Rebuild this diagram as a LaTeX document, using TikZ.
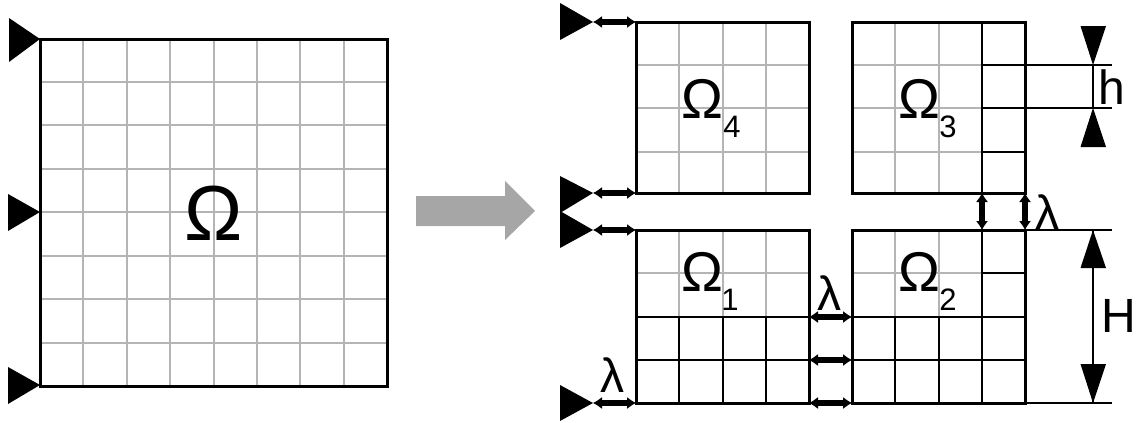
\documentclass[tikz,border=0pt]{standalone}
\usepackage{fontspec}
\setmainfont{Liberation Sans}
\usetikzlibrary{arrows.meta}
\definecolor{gridgray}{HTML}{B4B4B4}
\definecolor{bigarrow}{HTML}{A6A6A6}
\tikzset{
  x=1pt,y=-1pt,
  thin line/.style={line width=2.4pt,draw=gridgray},
  black line/.style={line width=2.4pt,draw=black},
  border/.style={line width=3pt,draw=black,line join=miter},
  dim line/.style={line width=2.4pt,draw=black},
  gap arrow/.style={line width=1pt,draw=black,{Latex[length=9pt,width=12pt]}-{Latex[length=9pt,width=12pt]}},
  gap shaft/.style={line width=6pt,draw=black,shorten >=5pt,shorten <=5pt},
  solid tri/.style={fill=black,draw=none},
  bigO/.style={inner sep=0pt,font=\fontsize{78}{78}\selectfont},
  medO/.style={inner sep=0pt,font=\fontsize{56}{56}\selectfont},
  subs/.style={inner sep=0pt,font=\fontsize{31}{31}\selectfont},
  lbl/.style={inner sep=0pt,font=\fontsize{48}{48}\selectfont},
}
\begin{document}
\begin{tikzpicture}
\useasboundingbox (0,0) rectangle (1136,423);
% left domain
\foreach \v in {83,127,170,214,257,300,344}{
  \draw[thin line] (\v,39) -- (\v,386);
}
\foreach \v in {82,125,169,212,256,299,343}{
  \draw[thin line] (40,\v) -- (387,\v);
}
\draw[border] (40,39) rectangle (387,386);
% supports, left
\fill[solid tri] (40,39) -- (9,18) -- (9,62) -- cycle;
\fill[solid tri] (40,212) -- (8,194) -- (8,231) -- cycle;
\fill[solid tri] (40,385) -- (8,367) -- (8,404) -- cycle;
% big arrow
\fill[bigarrow] (416,196) -- (505,196) -- (505,181) -- (535,211) -- (505,240) -- (505,226) -- (416,226) -- cycle;
% gray grid, right
\foreach \x in {679,723,766,895,939}{
  \draw[thin line] (\x,22) -- (\x,193);
  \draw[thin line] (\x,230) -- (\x,317);
}
\foreach \y in {65,108,152}{
  \draw[thin line] (636,\y) -- (809,\y);
  \draw[thin line] (852,\y) -- (982,\y);
}
\draw[thin line] (636,273) -- (809,273);
\draw[thin line] (852,273) -- (982,273);
% black grid, right
\foreach \x in {679,723,766,895,939}{
  \draw[black line] (\x,317) -- (\x,403);
}
\draw[black line] (982,22) -- (982,193);
\draw[black line] (982,230) -- (982,403);
\draw[black line] (636,317) -- (809,317);
\draw[black line] (636,360) -- (809,360);
\draw[black line] (852,317) -- (1025,317);
\draw[black line] (852,360) -- (1025,360);
\draw[black line] (982,152) -- (1025,152);
\draw[black line] (982,273) -- (1025,273);
% subdomain borders
\draw[border] (636,22) rectangle (809,193);
\draw[border] (852,22) rectangle (1025,193);
\draw[border] (636,230) rectangle (809,403);
\draw[border] (852,230) rectangle (1025,403);
% named ends
\coordinate (s4a) at (593,22); \coordinate (d4a) at (636,22);
\coordinate (s4b) at (593,193); \coordinate (d4b) at (636,193);
\coordinate (s1a) at (593,230); \coordinate (d1a) at (636,230);
\coordinate (s1b) at (593,403); \coordinate (d1b) at (636,403);
\coordinate (r1a) at (809,317); \coordinate (l2a) at (852,317);
\coordinate (r1b) at (809,360); \coordinate (l2b) at (852,360);
\coordinate (r1c) at (809,403); \coordinate (l2c) at (852,403);
\coordinate (b3a) at (982,193); \coordinate (t2a) at (982,230);
\coordinate (b3b) at (1025,193); \coordinate (t2b) at (1025,230);
% supports, right
\fill[solid tri] (s4a) -- (560,3) -- (560,40) -- cycle;
\fill[solid tri] (s4b) -- (560,176) -- (560,213) -- cycle;
\fill[solid tri] (s1a) -- (560,211) -- (560,248) -- cycle;
\fill[solid tri] (s1b) -- (560,385) -- (560,421) -- cycle;
% gap arrows
\foreach \a/\b in {s4a/d4a,s4b/d4b,s1a/d1a,s1b/d1b,r1a/l2a,r1b/l2b,r1c/l2c,b3a/t2a,b3b/t2b}{
  \draw[gap shaft] (\a) -- (\b);
  \draw[gap arrow] (\a) -- (\b);
}
% h dimension
\coordinate (h1) at (1093,65); \coordinate (h2) at (1093,108);
\draw[dim line] (982,65) -- (1112,65);
\draw[dim line] (982,108) -- (1112,108);
\draw[dim line] (h1) -- (h2);
\fill[solid tri] (h1) -- (1080.5,26) -- (1106,26) -- cycle;
\fill[solid tri] (h2) -- (1080.5,147) -- (1106,147) -- cycle;
% H dimension
\coordinate (H1) at (1093,230); \coordinate (H2) at (1093,403);
\draw[dim line] (1025,230) -- (1112,230);
\draw[dim line] (1025,403) -- (1112,403);
\draw[dim line] (H1) -- (H2);
\fill[solid tri] (H1) -- (1080.5,268) -- (1106,268) -- cycle;
\fill[solid tri] (H2) -- (1080.5,364) -- (1106,364) -- cycle;
% labels
\node[bigO] (O) at (214,213) {Ω};
\node[medO] (O4) at (702,99) {Ω};
\node[subs] (n4) at (732,127) {4};
\node[medO] (O3) at (919,99) {Ω};
\node[subs] (n3) at (948,127) {3};
\node[medO] (O1) at (702,272) {Ω};
\node[subs] (n1) at (730,300) {1};
\node[medO] (O2) at (919,272) {Ω};
\node[subs] (n2) at (948,300) {2};
\node[lbl] (l1) at (612,375) {λ};
\node[lbl] (l2) at (829,293) {λ};
\node[lbl] (l3) at (1047,212) {λ};
\node[lbl] (hh) at (1112,87) {h};
\node[lbl] (HH) at (1119,316) {H};
\end{tikzpicture}
\end{document}
